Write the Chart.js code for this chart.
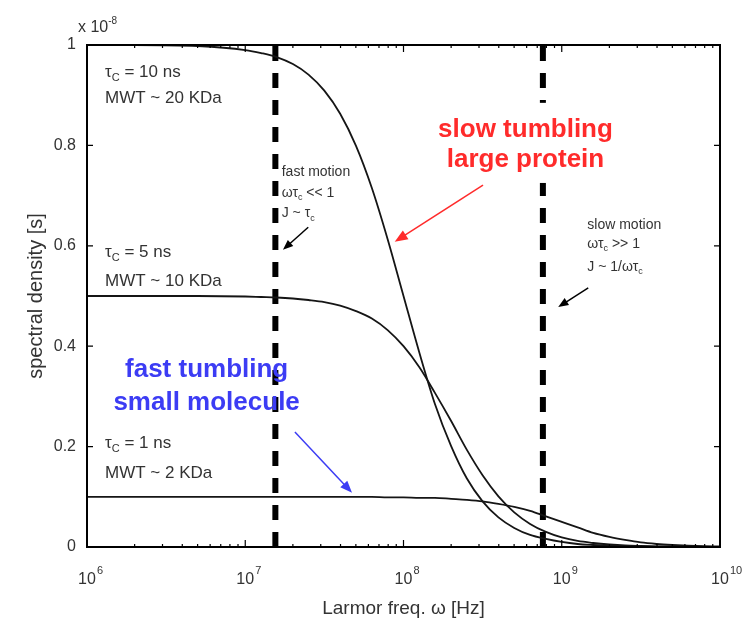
<!DOCTYPE html>
<html>
<head>
<meta charset="utf-8">
<script src="https://cdn.jsdelivr.net/npm/chart.js@4.4.1/dist/chart.umd.min.js"></script>
<style>
  html, body { margin: 0; padding: 0; background: #fff; }
  #wrap { width: 748px; height: 625px; }
</style>
</head>
<body>
<div id="wrap"><canvas id="chart" width="748" height="625"></canvas></div>
<script>
// Larmor frequency (Hz), read along the x axis
const freqs = [1e6, 2e6, 5e6, 1e7, 1.26e7, 1.58e7, 2e7, 2.51e7, 3.16e7, 3.98e7, 5.01e7, 6.31e7, 7.94e7,
    1e8, 1.26e8, 1.58e8, 2e8, 2.51e8, 3.16e8, 3.98e8, 5.01e8, 6.31e8, 7.94e8,
    1e9, 1.26e9, 1.58e9, 2e9, 2.51e9, 3.16e9, 3.98e9, 5.01e9, 6.31e9, 7.94e9, 1e10];

// spectral density, units of 1e-8 s
const j10ns = [1.000, 1.000, 0.998, 0.990, 0.984, 0.976, 0.962, 0.941, 0.909, 0.863, 0.799, 0.715, 0.613,
    0.500, 0.387, 0.285, 0.201, 0.137, 0.091, 0.059, 0.038, 0.024, 0.016,
    0.010, 0.006, 0.004, 0.0025, 0.0016, 0.001, 0.0006, 0.0004, 0.0003, 0.0002, 0.0001];
const j5ns = [0.500, 0.500, 0.500, 0.499, 0.498, 0.497, 0.495, 0.492, 0.488, 0.481, 0.470, 0.455, 0.432,
    0.400, 0.358, 0.307, 0.251, 0.194, 0.143, 0.101, 0.069, 0.046, 0.030,
    0.019, 0.012, 0.008, 0.005, 0.003, 0.002, 0.0013, 0.0008, 0.0005, 0.0003, 0.0002];
const j1ns = [0.100, 0.100, 0.100, 0.100, 0.100, 0.100, 0.100, 0.100, 0.100, 0.100, 0.100, 0.100, 0.099,
    0.099, 0.098, 0.098, 0.096, 0.094, 0.091, 0.086, 0.080, 0.072, 0.061,
    0.050, 0.039, 0.028, 0.020, 0.014, 0.009, 0.006, 0.004, 0.0025, 0.0016, 0.001];

// the two dashed marker lines
const markerFreqs = [1.55e7, 7.6e8];

const yTicks = [0, 0.2, 0.4, 0.6, 0.8, 1];
const xDecades = [6, 7, 8, 9, 10];

const FONT = "'Liberation Sans', Arial, Helvetica, sans-serif";
const GREY = '#333';
const RED = '#ff2b2b';
const BLUE = '#3c3cf4';

function pts(ys) {
    return freqs.map((f, i) => ({ x: f, y: ys[i] }));
}

const curveStyle = {
    borderColor: '#151515',
    borderWidth: 1.8,
    pointRadius: 0,
    fill: false,
    cubicInterpolationMode: 'monotone'
};

const datasets = [
    Object.assign({ label: 'tau 10 ns', data: pts(j10ns) }, curveStyle),
    Object.assign({ label: 'tau 5 ns', data: pts(j5ns) }, curveStyle),
    Object.assign({ label: 'tau 1 ns', data: pts(j1ns) }, curveStyle)
];
markerFreqs.forEach(function(f) {
    datasets.push({
        label: 'marker',
        data: [{ x: f, y: 0 }, { x: f, y: 1 }],
        borderColor: '#000',
        borderWidth: 6,
        borderDash: [15, 12],
        borderCapStyle: 'butt',
        pointRadius: 0,
        fill: false
    });
});

// text written as parts: {t, sub, sup}
function drawParts(ctx, parts, x, y, size, color, align) {
    ctx.save();
    ctx.fillStyle = color;
    ctx.textBaseline = 'middle';
    ctx.textAlign = 'left';
    let total = 0;
    parts.forEach(function(p) {
        ctx.font = ((p.sub || p.sup) ? Math.round(size * 0.65) : size) + 'px ' + FONT;
        total += ctx.measureText(p.t).width;
    });
    let cx = align === 'center' ? x - total / 2 : x;
    parts.forEach(function(p) {
        ctx.font = ((p.sub || p.sup) ? Math.round(size * 0.65) : size) + 'px ' + FONT;
        let dy = p.sub ? size * 0.35 : (p.sup ? -size * 0.45 : 0);
        ctx.fillText(p.t, cx, y + dy);
        cx += ctx.measureText(p.t).width;
    });
    ctx.restore();
}

function arrow(ctx, x1, y1, x2, y2, color, width, head) {
    const a = Math.atan2(y2 - y1, x2 - x1);
    ctx.save();
    ctx.strokeStyle = color;
    ctx.fillStyle = color;
    ctx.lineWidth = width;
    ctx.beginPath();
    ctx.moveTo(x1, y1);
    ctx.lineTo(x2 - Math.cos(a) * head * 0.8, y2 - Math.sin(a) * head * 0.8);
    ctx.stroke();
    ctx.beginPath();
    ctx.moveTo(x2, y2);
    ctx.lineTo(x2 - head * Math.cos(a - 0.38), y2 - head * Math.sin(a - 0.38));
    ctx.lineTo(x2 - head * Math.cos(a + 0.38), y2 - head * Math.sin(a + 0.38));
    ctx.closePath();
    ctx.fill();
    ctx.restore();
}

// annotations placed in data space (freq, value)
const labelsLeft = [
    { f: 1.3e6, v: 0.946, parts: [{ t: 'τ' }, { t: 'C', sub: true }, { t: ' = 10 ns' }] },
    { f: 1.3e6, v: 0.894, parts: [{ t: 'MWT ~ 20 KDa' }] },
    { f: 1.3e6, v: 0.588, parts: [{ t: 'τ' }, { t: 'C', sub: true }, { t: ' = 5 ns' }] },
    { f: 1.3e6, v: 0.530, parts: [{ t: 'MWT ~ 10 KDa' }] },
    { f: 1.3e6, v: 0.207, parts: [{ t: 'τ' }, { t: 'C', sub: true }, { t: ' = 1 ns' }] },
    { f: 1.3e6, v: 0.147, parts: [{ t: 'MWT ~ 2 KDa' }] }
];
const smallNotes = [
    { f: 1.7e7, v: 0.747, parts: [{ t: 'fast motion' }] },
    { f: 1.7e7, v: 0.705, parts: [{ t: 'ωτ' }, { t: 'c', sub: true }, { t: ' << 1' }] },
    { f: 1.7e7, v: 0.665, parts: [{ t: 'J ~ τ' }, { t: 'c', sub: true }] },
    { f: 1.45e9, v: 0.641, parts: [{ t: 'slow motion' }] },
    { f: 1.45e9, v: 0.604, parts: [{ t: 'ωτ' }, { t: 'c', sub: true }, { t: ' >> 1' }] },
    { f: 1.45e9, v: 0.558, parts: [{ t: 'J ~ 1/ωτ' }, { t: 'c', sub: true }] }
];
const arrows = [
    { f1: 3.18e8, v1: 0.721, f2: 8.8e7, v2: 0.608, color: RED, w: 1.5, head: 14 },
    { f1: 2.06e7, v1: 0.229, f2: 4.73e7, v2: 0.108, color: BLUE, w: 1.5, head: 13 },
    { f1: 2.5e7, v1: 0.637, f2: 1.73e7, v2: 0.592, color: '#000', w: 1.5, head: 11 },
    { f1: 1.47e9, v1: 0.516, f2: 9.5e8, v2: 0.478, color: '#000', w: 1.5, head: 11 }
];

const decor = {
    id: 'decor',
    afterDatasetsDraw(chart) {
        const ctx = chart.ctx;
        const xs = chart.scales.x, ys = chart.scales.y;
        const a = chart.chartArea;
        const px = f => xs.getPixelForValue(f);
        const py = v => ys.getPixelForValue(v);

        // frame
        ctx.save();
        ctx.strokeStyle = '#000';
        ctx.lineWidth = 2;
        ctx.strokeRect(a.left, a.top, a.right - a.left, a.bottom - a.top);

        // inward ticks
        ctx.lineWidth = 1.2;
        ctx.beginPath();
        yTicks.forEach(function(v) {
            const y = py(v);
            ctx.moveTo(a.left, y); ctx.lineTo(a.left + 6, y);
            ctx.moveTo(a.right, y); ctx.lineTo(a.right - 6, y);
        });
        xDecades.forEach(function(d) {
            for (let m = 1; m <= 9; m++) {
                if (d === 10 && m > 1) break;
                const x = px(m * Math.pow(10, d));
                const len = m === 1 ? 7 : 3;
                ctx.moveTo(x, a.bottom); ctx.lineTo(x, a.bottom - len);
                ctx.moveTo(x, a.top); ctx.lineTo(x, a.top + len);
            }
        });
        ctx.stroke();
        ctx.restore();

        // x tick labels 10^n
        xDecades.forEach(function(d) {
            const x = px(Math.pow(10, d));
            ctx.save();
            ctx.fillStyle = GREY;
            ctx.textBaseline = 'middle';
            ctx.font = '16px ' + FONT;
            ctx.textAlign = 'center';
            ctx.fillText('10', x, a.bottom + 33);
            const w = ctx.measureText('10').width;
            ctx.textAlign = 'left';
            ctx.font = '11px ' + FONT;
            ctx.fillText(String(d), x + w / 2 + 1, a.bottom + 24);
            ctx.restore();
        });

        // multiplier
        drawParts(ctx, [{ t: 'x 10' }, { t: '-8', sup: true }], a.left - 9, a.top - 17, 16, GREY, 'left');

        labelsLeft.forEach(l => drawParts(ctx, l.parts, px(l.f), py(l.v), 17, GREY, 'left'));
        smallNotes.forEach(l => drawParts(ctx, l.parts, px(l.f), py(l.v), 14, GREY, 'left'));

        // red label on white box
        const redX = px(5.9e8);
        const redY1 = py(0.831), redY2 = py(0.771);
        ctx.save();
        ctx.font = 'bold 26px ' + FONT;
        const bw = Math.max(ctx.measureText('slow tumbling').width, ctx.measureText('large protein').width) + 30;
        ctx.fillStyle = '#fff';
        ctx.fillRect(redX - bw / 2, redY1 - 27, bw, redY2 - redY1 + 50);
        ctx.fillStyle = RED;
        ctx.textAlign = 'center';
        ctx.textBaseline = 'middle';
        ctx.fillText('slow tumbling', redX, redY1);
        ctx.fillText('large protein', redX, redY2);

        ctx.fillStyle = BLUE;
        ctx.fillText('fast tumbling', px(5.7e6), py(0.353));
        ctx.fillText('small molecule', px(5.7e6), py(0.287));
        ctx.restore();

        arrows.forEach(r => arrow(ctx, px(r.f1), py(r.v1), px(r.f2), py(r.v2), r.color, r.w, r.head));
    }
};

const chart = new Chart(document.getElementById('chart'), {
    type: 'line',
    data: { datasets: datasets },
    options: {
        responsive: false,
        animation: false,
        layout: { padding: { top: 45, right: 28, bottom: 0, left: 0 } },
        plugins: { legend: { display: false }, tooltip: { enabled: false } },
        scales: {
            x: {
                type: 'logarithmic',
                min: 1e6,
                max: 1e10,
                grid: { display: false, drawTicks: false },
                border: { display: false },
                ticks: { display: false },
                title: {
                    display: true,
                    text: 'Larmor freq. ω [Hz]',
                    color: GREY,
                    font: { family: FONT, size: 19 },
                    padding: { top: 0, bottom: 5 }
                },
                afterFit: function(s) { s.height = 78; }
            },
            y: {
                min: 0,
                max: 1,
                grid: { display: false, drawTicks: false },
                border: { display: false },
                ticks: {
                    stepSize: 0.2,
                    padding: 11,
                    color: GREY,
                    font: { family: FONT, size: 16 },
                    callback: v => String(Math.round(v * 10) / 10)
                },
                title: {
                    display: true,
                    text: 'spectral density [s]',
                    color: GREY,
                    font: { family: FONT, size: 20 },
                    padding: { top: 24, bottom: 0 }
                },
                afterFit: function(s) { s.width = 87; }
            }
        }
    },
    plugins: [decor]
});
</script>
</body>
</html>
